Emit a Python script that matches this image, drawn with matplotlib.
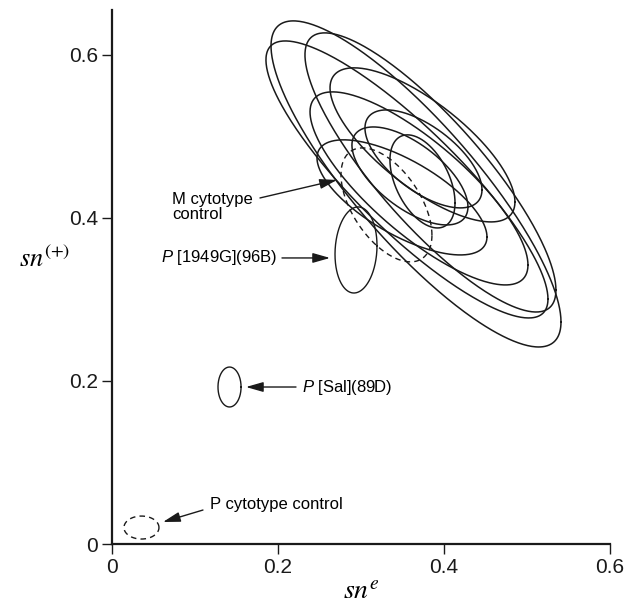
import numpy as np
import matplotlib
matplotlib.use('Agg')
import matplotlib.pyplot as plt

plt.rcParams['font.family'] = ['Liberation Sans', 'DejaVu Sans']
plt.rcParams['mathtext.fontset'] = 'custom'
plt.rcParams['mathtext.it'] = 'Liberation Sans:italic'
plt.rcParams['mathtext.rm'] = 'Liberation Sans'

# ellipses: centre, half extent in x and y, tilt (corr)
# solid ellipses in the main cluster
cx = [0.3663, 0.3554, 0.3837, 0.3741, 0.3699, 0.3494, 0.3590, 0.3753, 0.3741]
cy = [0.4417, 0.4472, 0.4558, 0.4896, 0.4362, 0.4252, 0.4515, 0.4724, 0.4448]
hx = [0.1747, 0.1699, 0.1512, 0.1114, 0.1313, 0.1024, 0.0699, 0.0705, 0.0392]
hy = [0.2000, 0.1699, 0.1712, 0.0945, 0.1184, 0.0706, 0.0601, 0.0601, 0.0571]
rho = [-0.846, -0.863, -0.842, -0.74, -0.793, -0.686, -0.63, -0.63, -0.46]

# single labelled lines: (cx, cy, hx, hy, rho)
m_control = (0.3307, 0.4160, 0.0548, 0.0699, -0.53)
p_1949g = (0.2940, 0.3607, 0.0253, 0.0528, 0.1)
p_sal = (0.1416, 0.1926, 0.0139, 0.0245, 0.0)
p_control = (0.0355, 0.0202, 0.0211, 0.0141, 0.0)

ticks = [0, 0.2, 0.4, 0.6]
tick_labels = ['0', '0.2', '0.4', '0.6']


def ellipse_xy(x0, y0, sx, sy, r, n=400):
    t = np.linspace(0, 2 * np.pi, n)
    x = x0 + sx * np.cos(t)
    y = y0 + sy * (r * np.cos(t) + np.sqrt(1 - r ** 2) * np.sin(t))
    return x, y


fig = plt.figure(figsize=(6.24, 6.09), dpi=100)
ax = fig.add_axes([0.1795, 0.1067, 0.798, 0.8768])

ink = '#1a1a1a'
for i in range(len(cx)):
    x, y = ellipse_xy(cx[i], cy[i], hx[i], hy[i], rho[i])
    ax.plot(x, y, color=ink, lw=1.1)

x, y = ellipse_xy(*m_control)
ax.plot(x, y, color=ink, lw=1.0, ls=(0, (4, 3)))
x, y = ellipse_xy(*p_1949g)
ax.plot(x, y, color=ink, lw=1.0)
x, y = ellipse_xy(*p_sal)
ax.plot(x, y, color=ink, lw=1.0)
x, y = ellipse_xy(*p_control)
ax.plot(x, y, color=ink, lw=1.0, ls=(0, (4, 3)))

arrow = dict(arrowstyle='-|>,head_length=0.7,head_width=0.2', mutation_scale=15,
             color=ink, lw=1.0, shrinkA=0, shrinkB=0)

ax.text(0.0723, 0.4135, 'M cytotype\ncontrol', fontsize=12, ha='left', va='center',
        linespacing=0.95)
ax.annotate('', xy=(0.2711, 0.4466), xytext=(0.1783, 0.4245), arrowprops=arrow)

ax.text(0.0590, 0.3509, '$P$ [1949G](96B)', fontsize=12, ha='left', va='center')
ax.annotate('', xy=(0.2627, 0.3509), xytext=(0.2048, 0.3509), arrowprops=arrow)

ax.text(0.2289, 0.1926, '$P$ [Sal](89D)', fontsize=12, ha='left', va='center')
ax.annotate('', xy=(0.1614, 0.1926), xytext=(0.2217, 0.1926), arrowprops=arrow)

ax.text(0.1181, 0.0479, 'P cytotype control', fontsize=12, ha='left', va='center')
ax.annotate('', xy=(0.0614, 0.0270), xytext=(0.1096, 0.0417), arrowprops=arrow)

ax.set_xlim(0, 0.6)
ax.set_ylim(0, 0.655)
ax.set_xticks(ticks)
ax.set_xticklabels(tick_labels)
ax.set_yticks(ticks)
ax.set_yticklabels(tick_labels)
ax.tick_params(direction='out', length=7, width=1, labelsize=15, pad=3, colors=ink)
for s in ['top', 'right']:
    ax.spines[s].set_visible(False)
for s in ['left', 'bottom']:
    ax.spines[s].set_linewidth(1.6)
    ax.spines[s].set_color(ink)

ax.set_xlabel('$sn^e$', fontsize=20, math_fontfamily='stix', labelpad=2)
ax.set_ylabel('$sn^{(+)}$', fontsize=19, math_fontfamily='stix', rotation=0)
ax.yaxis.set_label_coords(-0.135, 0.51)

fig.savefig('out.png', dpi=100)
